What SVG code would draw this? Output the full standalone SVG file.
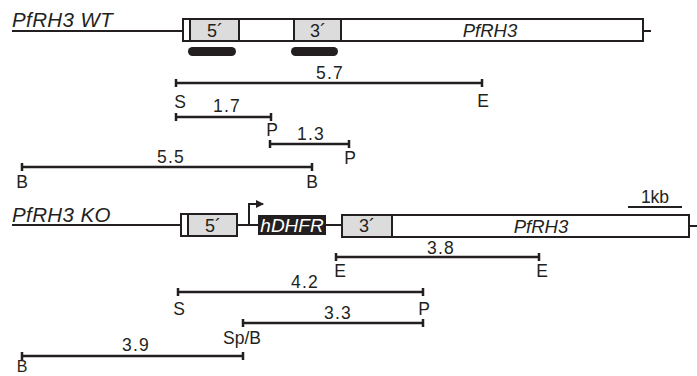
<svg xmlns="http://www.w3.org/2000/svg" width="697" height="376" viewBox="0 0 697 376">
<style>
.ln{stroke:#231f20;stroke-width:2;fill:none}
.box{stroke:#231f20;stroke-width:2;fill:#fff}
.gr{stroke:#231f20;stroke-width:2;fill:#dcdcdc}
.dim{stroke:#231f20;stroke-width:2.5;fill:none}
.probe{fill:#231f20}
text{font-family:"Liberation Sans",Arial,sans-serif;fill:#231f20}
.title{font-size:20.5px;font-style:italic;letter-spacing:0.4px}
.num{font-size:17.5px;letter-spacing:1.2px;text-anchor:middle}
.site{font-size:17.5px;text-anchor:middle}
.seg{font-size:18px;text-anchor:middle}
.gene{font-size:18.5px;font-style:italic;text-anchor:middle}
</style>
<defs>
<marker id="ah" viewBox="0 0 8 8" refX="7" refY="4" markerWidth="8" markerHeight="8" markerUnits="userSpaceOnUse" orient="auto">
<path d="M0,0 L8,4 L0,8 Z" fill="#231f20"/>
</marker>
</defs>

<g id="wt-locus">
<text class="title" x="12" y="27">PfRH3 WT</text>
<line class="ln" x1="12" y1="31" x2="183" y2="31"/>
<line class="ln" x1="643" y1="31" x2="651" y2="31"/>
<rect class="box" x="183" y="19" width="460" height="22"/>
<rect class="gr" x="190" y="19" width="49" height="22"/>
<rect class="gr" x="294" y="19" width="47" height="22"/>
<text class="seg" x="215" y="37">5´</text>
<text class="seg" x="318" y="37">3´</text>
<text class="gene" x="490" y="37">PfRH3</text>
</g>

<g id="wt-probes">
<rect class="probe" x="188" y="47" width="48" height="9" rx="4.5"/>
<rect class="probe" x="291" y="47" width="47" height="9" rx="4.5"/>
</g>

<g id="ko-locus">
<text class="title" x="12" y="222">PfRH3 KO</text>
<line class="ln" x1="12" y1="225" x2="181" y2="225"/>
<line class="ln" x1="237" y1="225" x2="258" y2="225"/>
<line class="ln" x1="326" y1="225" x2="342" y2="225"/>
<line class="ln" x1="689" y1="226" x2="697" y2="226"/>
<rect class="box" x="181" y="214" width="56" height="22"/>
<rect class="gr" x="188" y="214" width="49" height="22"/>
<rect x="258" y="215" width="68" height="20" fill="#231f20"/>
<text x="292" y="232" font-size="19" font-style="italic" text-anchor="middle" style="fill:#fff">hDHFR</text>
<rect class="box" x="342" y="215" width="347" height="22"/>
<rect class="gr" x="342" y="215" width="50" height="22"/>
<text class="seg" x="367" y="232">3´</text>
<text class="seg" x="213" y="232">5´</text>
<text class="gene" x="541" y="233">PfRH3</text>
<path class="ln" d="M249,225 V204 H263" marker-end="url(#ah)" stroke-width="1.6"/>
</g>

<g id="scale">
<line class="ln" x1="628" y1="207" x2="682" y2="207"/>
<text class="site" x="655" y="203">1kb</text>
</g>

<g id="connectors">
<path class="dim" d="M176,83 H482 M176,79 V87 M482,79 V87"/>
<path class="dim" d="M176,117 H271 M176,113 V121 M271,113 V121"/>
<path class="dim" d="M270,144 H349 M270,140 V148 M349,140 V148"/>
<path class="dim" d="M22,167 H312 M22,163 V171 M312,163 V171"/>
<path class="dim" d="M336,257 H539 M336,253 V261 M539,253 V261"/>
<path class="dim" d="M178,292 H423 M178,288 V296 M423,288 V296"/>
<path class="dim" d="M243,323 H423 M243,319 V327 M423,319 V327"/>
<path class="dim" d="M22,356 H243 M22,352 V360 M243,352 V360"/>
</g>

<g id="labels">
<text class="num" x="330" y="79">5.7</text>
<text class="site" x="180" y="108">S</text>
<text class="site" x="483" y="107">E</text>
<text class="num" x="227" y="112">1.7</text>
<text class="site" x="272" y="136">P</text>
<text class="num" x="311" y="140">1.3</text>
<text class="site" x="350" y="164">P</text>
<text class="num" x="171" y="163">5.5</text>
<text class="site" x="22" y="188">B</text>
<text class="site" x="312" y="188">B</text>
<text class="num" x="441" y="254">3.8</text>
<text class="site" x="340" y="277">E</text>
<text class="site" x="542" y="277">E</text>
<text class="num" x="305" y="288">4.2</text>
<text class="site" x="179" y="315">S</text>
<text class="site" x="424" y="315">P</text>
<text class="num" x="338" y="319">3.3</text>
<text class="site" x="242" y="344">Sp/B</text>
<text class="num" x="136" y="351">3.9</text>
<text class="site" x="22" y="372" style="font-size:16px">B</text>
</g>
</svg>
